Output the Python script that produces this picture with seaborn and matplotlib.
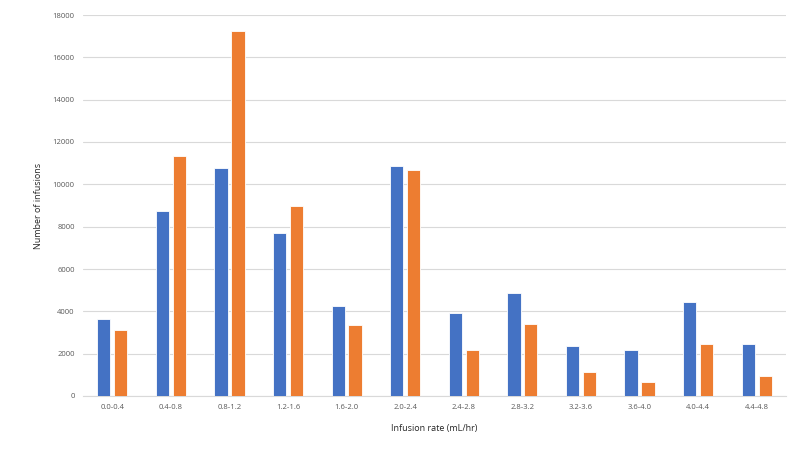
import numpy as np
import pandas as pd
import matplotlib
matplotlib.use('Agg')
import matplotlib.pyplot as plt
import seaborn as sns

# infusion rate bins and counts per group
rates = ['0.0-0.4', '0.4-0.8', '0.8-1.2', '1.2-1.6', '1.6-2.0', '2.0-2.4',
         '2.4-2.8', '2.8-3.2', '3.2-3.6', '3.6-4.0', '4.0-4.4', '4.4-4.8']
serie_azul = [3640, 8750, 10750, 7680, 4260, 10880, 3900, 4880, 2340, 2190, 4450, 2440]
serie_laranja = [3130, 11350, 17250, 8980, 3350, 10700, 2170, 3380, 1150, 680, 2440, 960]
grupos = ['A', 'B']

df = pd.DataFrame({
    'Rate': rates * 2,
    'Infusions': serie_azul + serie_laranja,
    'Grupo': [grupos[0]] * len(rates) + [grupos[1]] * len(rates),
})

sns.set_style('white')
plt.rcParams['font.family'] = ['Open Sans', 'DejaVu Sans']

fig = plt.figure(figsize=(8, 4.5), dpi=100)
ax = fig.add_axes([83 / 800, 1 - 396 / 450, 703 / 800, 381 / 450])

sns.barplot(data=df, x='Rate', y='Infusions', hue='Grupo',
            palette=['#4472C4', '#ED7D31'], saturation=1, width=0.58, gap=0.22,
            edgecolor='white', linewidth=0.6, legend=False, ax=ax, zorder=3)

ax.set_ylim(0, 18000)
ax.set_xlim(-0.5, len(rates) - 0.5)
ax.set_yticks(np.arange(0, 18001, 2000))
ax.yaxis.grid(True, color='#D9D9D9', linewidth=0.8, zorder=0)
ax.set_axisbelow(True)
for s in ['top', 'right', 'left']:
    ax.spines[s].set_visible(False)
ax.spines['bottom'].set_color('#D9D9D9')
ax.spines['bottom'].set_linewidth(0.8)
ax.tick_params(axis='both', length=0, labelsize=5.5, labelcolor='#595959')
ax.tick_params(axis='y', pad=6)
ax.tick_params(axis='x', pad=6)

ax.set_xlabel('Infusion rate (mL/hr)', fontsize=6.5, color='#262626', labelpad=9)
ax.set_ylabel('Number of infusions', fontsize=6.5, color='#262626', labelpad=7)

plt.savefig('out.png', dpi=100)
